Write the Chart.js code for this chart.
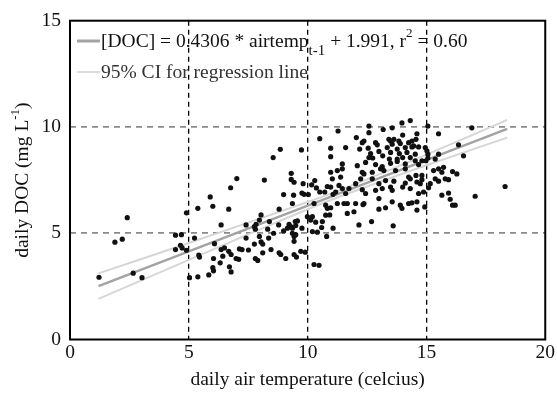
<!DOCTYPE html>
<html>
<head>
<meta charset="utf-8">
<script src="https://cdn.jsdelivr.net/npm/chart.js@4/dist/chart.umd.min.js"></script>
<style>
  html, body { margin: 0; padding: 0; background: #fff; }
</style>
</head>
<body>
<canvas id="docChart" width="557" height="396"></canvas>
<script>
// daily air temperature (x) vs daily DOC (y)
const observations = [
  [1.22,2.93],[1.89,4.58],[2.2,4.72],[2.41,5.73],[2.66,3.12],[3.03,2.91],[4.44,4.91],[4.69,4.93],
  [4.44,4.23],[4.65,4.43],[4.72,4.31],[4.9,4.2],[4.9,5.96],
  [5.38,6.17],[6.01,6.27],[6.68,6.13],[5.24,4.77],[5.42,3.97],[5.45,3.88],[5.03,2.91],[5.38,2.95],
  [5.84,3.04],[6.01,3.38],[6.04,3.23],[6.08,4.51],[6.04,3.81],[6.36,5.39],[6.36,4.23],[6.5,4.31],
  [6.43,3.92],[6.68,4.15],[6.78,4.0],[6.32,3.61],[6.71,3.42],[6.78,3.18],[6.99,3.81],[7.1,3.77],
  [7.13,4.26],[7.24,4.23],[7.51,4.21],[7.41,4.77],[7.41,5.39],[7.76,5.31],[7.8,5.19],[7.83,5.42],
  [8.04,5.86],[7.97,5.62],[7.8,3.81],[7.9,3.72],[7.76,4.49],[7.97,4.85],[8.04,4.59],[8.11,4.49],
  [8.11,4.08],[8.32,5.19],[8.39,5.55],[8.46,4.23],[8.36,4.77],[8.57,5.0],[8.78,5.39],[8.8,6.13],
  [8.8,4.08],[8.87,4.0],[8.99,5.11],[9.08,3.81],[9.22,5.42],[9.29,5.31],[9.36,5.24],[9.15,5.24],
  [9.48,5.55],[9.5,5.36],[9.36,5.0],[9.43,4.85],[9.5,4.93],[9.43,4.62],[9.57,5.58],[9.43,4.0],
  [9.53,3.88],[9.36,6.4],[9.76,5.24],[9.71,4.15],[9.9,4.11],[9.99,5.78],[10.2,5.78],[10.13,5.62],
  [10.27,3.53],[10.48,3.49],[10.2,5.08],[10.41,5.05],[10.34,5.52],[10.62,5.55],[10.59,5.27],
  [10.76,6.32],[10.83,6.17],[10.76,5.85],[10.8,4.85],
  [10.51,9.45],[8.85,8.95],[9.74,8.92],[8.55,8.56],[7.02,7.57],[8.18,7.5],[6.76,7.14],[5.9,6.71],
  [9.31,7.82],[9.31,7.53],[9.43,7.4],[9.81,7.33],[8.99,6.82],[9.41,6.79],[9.76,6.89],[9.85,6.83],
  [10.03,6.82],[10.17,7.28],[10.3,7.48],[10.37,7.13],[10.51,6.94],[10.72,6.94],[10.83,7.2],[10.27,6.4],
  [11.28,9.81],[10.97,9.0],[10.97,8.6],[11.6,9.03],[11.46,8.26],[11.46,8.03],[10.97,7.87],[11.25,7.95],
  [11.04,7.56],[11.39,7.64],[11.32,7.25],[10.97,7.17],[11.07,6.83],[11.25,6.4],[12.05,9.5],[12.58,10.04],
  [12.58,9.73],[13.18,9.88],[13.56,9.96],[13.97,10.19],[14.32,10.3],[14.0,9.62],[14.6,9.68],[15.06,10.04],
  [15.51,9.68],[16.91,9.96],[12.3,9.26],[12.37,9.34],[12.86,9.26],[12.93,9.16],[13.42,9.42],[13.49,9.34],
  [13.63,9.42],[13.56,9.19],[13.84,9.34],[13.9,9.22],[14.25,9.26],[14.39,9.34],[14.56,9.42],[14.46,9.11],
  [12.19,8.96],[12.55,9.0],[12.65,8.75],[13.0,8.85],[13.35,9.03],[13.49,8.8],[13.77,8.96],[13.86,8.75],
  [14.11,9.03],[14.18,8.8],[14.39,9.06],[14.67,9.06],[14.53,8.72],[14.95,9.03],[15.02,8.88],[15.06,8.72],
  [12.58,8.56],[12.74,8.54],[13.16,8.64],[13.44,8.49],[13.77,8.49],[14.0,8.56],[14.32,8.56],[14.53,8.41],
  [15.06,8.54],[14.98,8.41],[15.51,8.72],[15.37,8.49],[16.56,8.64],[16.35,9.16],[12.09,8.18],[12.44,8.33],
  [12.86,8.23],[13.14,8.13],[13.49,8.29],[13.77,8.38],[14.11,8.26],[14.67,8.23],[14.81,8.41],
  [12.3,7.87],[12.37,7.79],[12.72,7.87],[13.07,8.03],[13.21,7.95],[13.7,7.95],[14.11,8.03],[14.25,7.64],
  [14.56,7.72],[14.81,7.72],[15.3,7.95],[15.51,8.03],[15.72,8.1],[15.65,7.87],[16.1,7.9],[16.28,7.79],
  [15.79,7.56],[15.93,7.52],[15.37,7.56],[15.51,7.45],[15.16,7.33],[15.09,7.14],[12.72,7.56],[13.0,7.33],
  [13.28,7.48],[13.63,7.45],[14.11,7.36],[14.32,7.56],[14.6,7.41],[14.74,7.33],[14.81,7.52],[12.23,7.56],
  [12.02,7.33],[11.46,7.1],[11.74,7.1],[11.18,6.94],[11.6,6.87],[12.3,7.05],[12.44,6.87],[12.86,7.02],
  [13.14,7.1],[13.49,7.17],[13.56,7.02],[14.0,7.17],[14.32,7.1],[14.67,6.87],[14.88,6.94],[15.65,6.79],
  [15.93,6.89],[17.05,6.74],[13.56,6.48],[13.9,6.32],[14.25,6.4],[14.6,6.48],[13.0,6.63],[12.37,6.4],
  [12.02,6.4],[11.67,6.4],
  [10.97,6.2],[10.93,5.86],[11.07,5.24],[11.53,6.4],[11.67,5.93],[11.95,6.01],[12.16,5.39],[12.33,6.35],
  [12.69,5.55],[13.0,6.13],[13.28,6.2],[13.6,5.35],[13.97,6.17],[14.39,6.43],[14.6,6.09],[14.93,6.24],
  [16.1,6.32],[16.21,6.32],[16.0,6.6],[18.31,7.2]
];

// fitted line [DOC] = 0.4306 * airtemp + 1.991
const fitX = [1.2, 18.4];
const fitY = [2.51, 9.91];

// 95% confidence band of the fit
const ciX = [1.2, 5, 10, 11.5, 15, 18.4];
const ciUpper = [3.11, 4.54, 6.47, 7.09, 8.70, 10.33];
const ciLower = [1.91, 3.75, 6.13, 6.79, 8.20, 9.50];

const xTicks = [0, 5, 10, 15, 20];
const yTicks = [0, 5, 10, 15];

const legendFit = ['[DOC] = 0.4306 * airtemp', 't-1', ' + 1.991, r', '2', ' = 0.60'];
const legendCI = '95% CI for regression line';
const xTitle = 'daily air temperature (celcius)';
const yTitle = ['daily DOC (mg L', '-1', ')'];

const SERIF = '"Liberation Serif", "Times New Roman", serif';
const toPts = (xs, ys) => xs.map((x, i) => ({ x: x, y: ys[i] }));

// frame, legend and y title (needs super/subscripts, so drawn by hand)
const annotations = {
  id: 'annotations',
  afterDraw(chart) {
    const { ctx, chartArea: a } = chart;
    ctx.save();
    ctx.strokeStyle = '#000';
    ctx.lineWidth = 2;
    ctx.strokeRect(a.left, a.top, a.right - a.left, a.bottom - a.top);

    const big = '19.5px ' + SERIF, sub = '15px ' + SERIF, sup = '13px ' + SERIF;
    ctx.fillStyle = '#111';
    ctx.textBaseline = 'alphabetic';

    // legend line 1
    ctx.strokeStyle = '#a3a3a3';
    ctx.lineWidth = 3;
    ctx.beginPath(); ctx.moveTo(a.left + 7, 41); ctx.lineTo(a.left + 30, 41); ctx.stroke();
    let x = a.left + 31;
    legendFit.forEach((t, i) => {
      ctx.font = i === 1 ? sub : i === 3 ? sup : big;
      ctx.fillText(t, x, i === 1 ? 55 : i === 3 ? 37 : 47);
      x += ctx.measureText(t).width;
    });

    // legend line 2
    ctx.strokeStyle = '#dcdcdc';
    ctx.lineWidth = 2;
    ctx.beginPath(); ctx.moveTo(a.left + 7, 72); ctx.lineTo(a.left + 30, 72); ctx.stroke();
    ctx.font = big;
    ctx.fillStyle = '#333';
    ctx.fillText(legendCI, a.left + 31, 78);

    // y title
    ctx.fillStyle = '#111';
    ctx.font = big;
    const w0 = ctx.measureText(yTitle[0]).width, w2 = ctx.measureText(yTitle[2]).width;
    ctx.font = sup;
    const w1 = ctx.measureText(yTitle[1]).width;
    const total = w0 + w1 + w2;
    ctx.translate(28, (a.top + a.bottom) / 2);
    ctx.rotate(-Math.PI / 2);
    let s = -total / 2;
    ctx.font = big; ctx.fillText(yTitle[0], s, 0); s += w0;
    ctx.font = sup; ctx.fillText(yTitle[1], s, -9); s += w1;
    ctx.font = big; ctx.fillText(yTitle[2], s, 0);
    ctx.restore();
  }
};

new Chart(document.getElementById('docChart'), {
  type: 'scatter',
  data: {
    datasets: [
      {
        label: 'observations',
        data: observations.map(p => ({ x: p[0], y: p[1] })),
        backgroundColor: '#111',
        borderWidth: 0,
        pointRadius: 2.6,
        order: 0
      },
      {
        label: 'fit',
        data: toPts(fitX, fitY),
        showLine: true,
        borderColor: '#a3a3a3',
        borderWidth: 2.5,
        pointRadius: 0,
        order: 1
      },
      {
        label: 'ci upper',
        data: toPts(ciX, ciUpper),
        showLine: true,
        borderColor: '#d6d6d6',
        borderWidth: 2,
        pointRadius: 0,
        tension: 0.3,
        order: 2
      },
      {
        label: 'ci lower',
        data: toPts(ciX, ciLower),
        showLine: true,
        borderColor: '#d6d6d6',
        borderWidth: 2,
        pointRadius: 0,
        tension: 0.3,
        order: 2
      }
    ]
  },
  options: {
    responsive: false,
    animation: false,
    layout: { padding: { left: 0, top: 16, right: 11, bottom: 0 } },
    plugins: { legend: { display: false }, tooltip: { enabled: false } },
    scales: {
      x: {
        type: 'linear', min: 0, max: 20,
        afterFit: s => { s.height = 56.5; },
        afterBuildTicks: s => { s.ticks = xTicks.map(v => ({ value: v })); },
        ticks: { color: '#111', padding: 2, font: { family: SERIF, size: 19.5 } },
        grid: {
          drawTicks: false,
          lineWidth: 1.3,
          color: c => (c.tick && c.tick.value > 0 && c.tick.value < 20) ? '#000' : 'rgba(0,0,0,0)'
        },
        border: { display: false, dash: [5, 4] },
        title: { display: true, text: xTitle, color: '#111', padding: { top: 0, bottom: 4 }, font: { family: SERIF, size: 19.5 } }
      },
      y: {
        type: 'linear', min: 0, max: 15,
        afterFit: s => { s.width = 70; },
        afterBuildTicks: s => { s.ticks = yTicks.map(v => ({ value: v })); },
        ticks: { color: '#111', padding: 9, font: { family: SERIF, size: 19.5 } },
        grid: {
          drawTicks: false,
          lineWidth: 1.8,
          color: c => (c.tick && c.tick.value > 0 && c.tick.value < 15) ? '#8a8a8a' : 'rgba(0,0,0,0)'
        },
        border: { display: false, dash: [6, 5] }
      }
    }
  },
  plugins: [annotations]
});
</script>
</body>
</html>
